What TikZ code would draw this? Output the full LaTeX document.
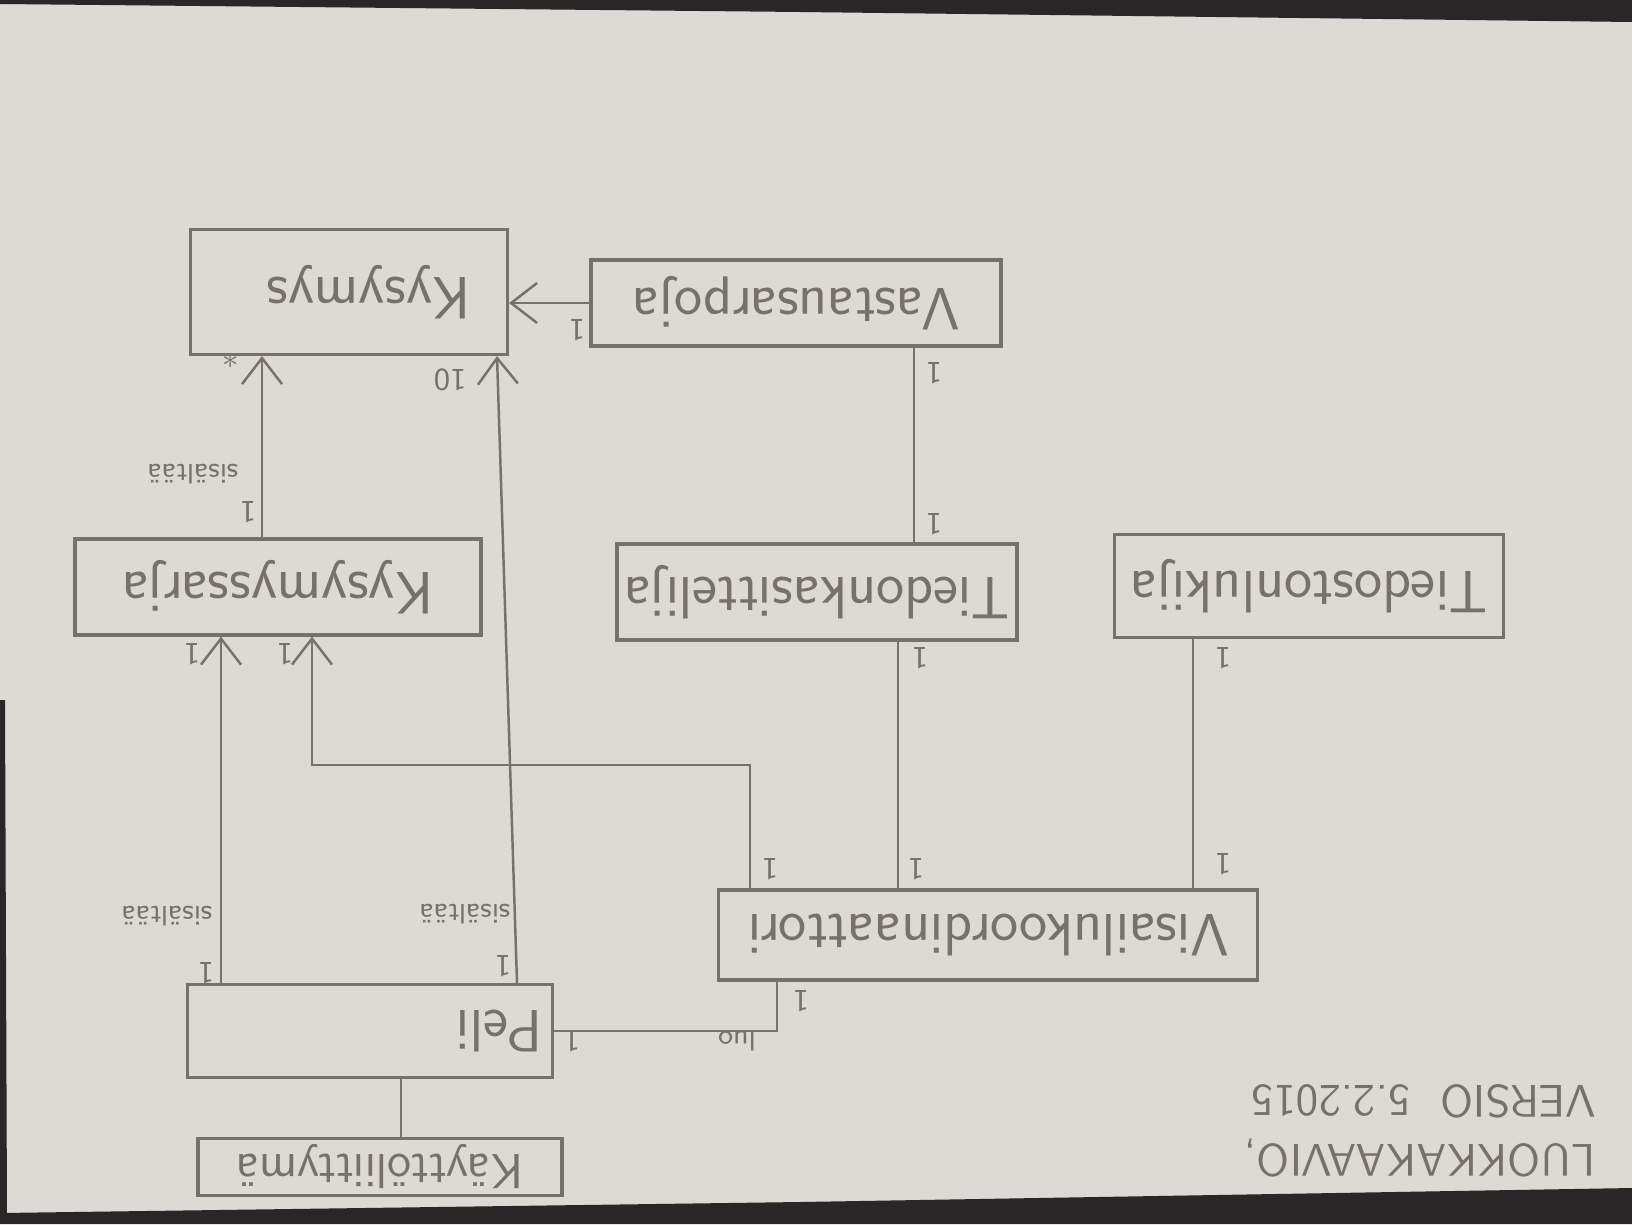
\documentclass[tikz,border=0pt]{standalone}
\usepackage{graphicx}
\usepackage{tikz}
\usetikzlibrary{arrows.meta, positioning, calc}
\definecolor{pPaper}{HTML}{DDD9D4}
\definecolor{pPencil}{HTML}{76716D}
\definecolor{pDark}{HTML}{2A2628}
\newcommand{\flip}[1]{\rotatebox[origin=c]{180}{#1}}
\tikzset{
  cls/.style={draw=pPencil, line width=0.9pt, rectangle, inner sep=0pt,
              text=pPencil, font=\sffamily\fontsize{17}{19}\selectfont},
  assoc/.style={draw=pPencil, line width=0.7pt},
  nav/.style={assoc, -{Straight Barb[length=2.6mm, width=4mm, line width=0.7pt]}},
  mult/.style={text=pPencil, inner sep=1pt, font=\sffamily\small},
  role/.style={text=pPencil, inner sep=1pt, font=\sffamily\footnotesize},
}

\begin{document}
\begin{tikzpicture}
    % paper and photo edges
    \fill[pPaper] (0,0) rectangle (16.32,-12.24);
    \fill[pDark] (0,0) -- (16.32,0) -- (16.32,-0.22) -- (8,-0.12) -- (0,-0.04) -- cycle;
    \fill[pDark] (0,-12.24) -- (16.32,-12.24) -- (16.32,-11.88) -- (8,-12.02) -- (0,-12.13) -- cycle;
    \fill[pDark] (0,-7.0) -- (0.05,-7.0) -- (0.07,-12.13) -- (0,-12.13) -- cycle;
    \useasboundingbox (0,0) rectangle (16.32,-12.24);

    \node[cls, minimum width=3.17cm, minimum height=1.25cm] (kysymys) at (3.49,-2.92)
      {\hspace*{0.4cm}\flip{Kysymys}};
    \node[cls, minimum width=4.10cm, minimum height=0.86cm] (vastaus) at (7.96,-3.03)
      {\flip{Vastausarpoja}};
    \node[cls, minimum width=4.06cm, minimum height=0.96cm] (sarja) at (2.78,-5.87)
      {\flip{Kysymyssarja}};
    \node[cls, minimum width=4.00cm, minimum height=0.96cm] (kasittelija) at (8.17,-5.92)
      {\flip{Tiedonkasittelija}};
    \node[cls, minimum width=3.89cm, minimum height=1.03cm] (lukija) at (13.09,-5.86)
      {\flip{Tiedostonlukija}};
    \node[cls, minimum width=5.39cm, minimum height=0.90cm] (koord) at (9.88,-9.35)
      {\flip{Visailukoordinaattori}};
    \node[cls, minimum width=3.65cm, minimum height=0.93cm, text width=3.45cm, align=right]
      (peli) at (3.70,-10.31) {\flip{Peli}};
    \node[cls, minimum width=3.64cm, minimum height=0.57cm, font=\sffamily\fontsize{14}{16}\selectfont]
      (kali) at (3.80,-11.67) {\flip{Käyttöliittymä}};

    % associations
    \draw[nav] (vastaus.west) -- (vastaus.west -| kysymys.east);
    \draw[assoc] ([xshift=1.18cm]vastaus.south) -- ([xshift=1.18cm]vastaus.south |- kasittelija.north);
    \draw[nav] ([xshift=-0.16cm]sarja.north) -- ([xshift=-0.16cm]sarja.north |- kysymys.south);
    \draw[nav] ([xshift=1.47cm]peli.north) -- ([xshift=1.48cm]kysymys.south);
    \draw[nav] ([xshift=-1.49cm]peli.north) -- ([xshift=-1.49cm]peli.north |- sarja.south);
    \draw[nav] ([xshift=-2.38cm]koord.north) |- (3.12,-7.65) -- (3.12,-7.65 |- sarja.south);
    \draw[assoc] ([xshift=0.81cm]kasittelija.south) -- ([xshift=0.81cm]kasittelija.south |- koord.north);
    \draw[assoc] ([xshift=-1.16cm]lukija.south) -- ([xshift=-1.16cm]lukija.south |- koord.north);
    \draw[assoc] ([xshift=-2.11cm]koord.south) |- (peli.east);
    \draw[assoc] ([xshift=0.31cm]peli.south) -- ([xshift=0.31cm]peli.south |- kali.north);

    % multiplicities and roles
    \node[mult] (m1)  at (5.77,-3.30) {\flip{1}};
    \node[mult] (m2)  at (9.34,-3.73) {\flip{1}};
    \node[mult] (m3)  at (9.34,-5.24) {\flip{1}};
    \node[mult] (m4)  at (2.31,-3.61) {$\ast$};
    \node[mult] (m5)  at (2.48,-5.12) {\flip{1}};
    \node[role] (r1)  at (1.93,-4.74) {\flip{sisältää}};
    \node[mult] (m6)  at (4.50,-3.80) {\flip{10}};
    \node[mult] (m7)  at (5.03,-9.66) {\flip{1}};
    \node[role] (r2)  at (4.65,-9.14) {\flip{sisältää}};
    \node[mult] (m8)  at (1.92,-6.54) {\flip{1}};
    \node[mult] (m9)  at (2.06,-9.73) {\flip{1}};
    \node[role] (r3)  at (1.67,-9.16) {\flip{sisältää}};
    \node[mult] (m10) at (2.85,-6.54) {\flip{1}};
    \node[mult] (m11) at (7.70,-8.69) {\flip{1}};
    \node[mult] (m12) at (9.20,-6.58) {\flip{1}};
    \node[mult] (m13) at (9.16,-8.69) {\flip{1}};
    \node[mult] (m14) at (12.23,-6.58) {\flip{1}};
    \node[mult] (m15) at (12.23,-8.64) {\flip{1}};
    \node[mult] (m16) at (8.01,-10.01) {\flip{1}};
    \node[mult] (m17) at (5.72,-10.41) {\flip{1}};
    \node[role] (r4)  at (7.37,-10.41) {\flip{luo}};

    \node[text=pPencil, font=\sffamily\fontsize{13}{17}\selectfont] (otsikko) at (14.20,-11.27)
      {\flip{\begin{tabular}{@{}l@{}}LUOKKAKAAVIO,\\ VERSIO\ \ 5.2.2015\end{tabular}}};
\end{tikzpicture}
\end{document}
